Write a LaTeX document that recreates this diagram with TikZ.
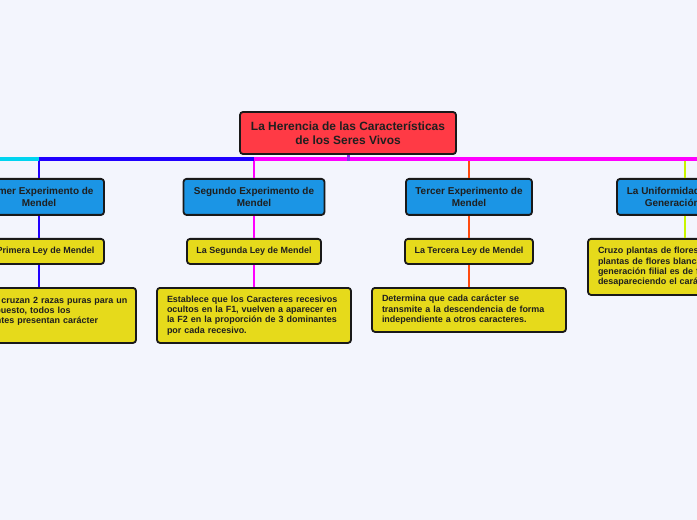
\documentclass[tikz,border=0pt]{standalone}
\usepackage{fontspec}
\setmainfont{Liberation Sans}
\usepackage{tikz}
\usetikzlibrary{shadows}

\definecolor{paper}{HTML}{F3F5FD}
\definecolor{rootred}{HTML}{FF3A45}
\definecolor{topicblue}{HTML}{1B95E5}
\definecolor{noteyellow}{HTML}{E6DA1B}
\definecolor{linecyan}{HTML}{00D4F0}
\definecolor{lineblue}{HTML}{2000FF}
\definecolor{linemagenta}{HTML}{FF00FF}
\definecolor{lineorange}{HTML}{FF4A10}
\definecolor{linelime}{HTML}{C8F500}
\definecolor{linepurple}{HTML}{8A30E8}

\begin{document}
\begin{tikzpicture}[x=1bp, y=-1bp,
	box/.style={draw=black!90, line width=1.8bp, rounded corners=3bp, text=black!88, inner sep=0pt,
		drop shadow={shadow xshift=0.6bp, shadow yshift=-0.9bp, opacity=0.35}},
	rootbox/.style={box, fill=rootred, minimum width=216bp, minimum height=42bp, align=center, font=\bfseries\fontsize{12}{14.5}\selectfont},
	topic/.style={box, fill=topicblue, anchor=north, minimum height=36bp, align=center, font=\bfseries\fontsize{10}{12}\selectfont},
	law/.style={box, fill=noteyellow, anchor=north, minimum height=25bp, font=\bfseries\fontsize{9}{10}\selectfont},
	note/.style={box, fill=noteyellow, anchor=north, inner xsep=10bp, text width=174bp, align=left, font=\bfseries\fontsize{9}{10.4}\selectfont},
	bus/.style={line width=4bp},
	stem/.style={line width=2.6bp},
	twig/.style={line width=1.4bp}]

	% page
	\useasboundingbox (0,0) rectangle (697,520);
	\clip (0,0) rectangle (697,520);
	\fill[paper] (0,0) rectangle (697,520);

	% central topic
	\node[rootbox] (root) at (348,133) {La Herencia de las Características\\de los Seres Vivos};

	% experiments
	\node[topic, minimum width=130bp] (e1) at (39,178) {Primer Experimento de\\Mendel};
	\node[topic, minimum width=141bp] (e2) at (254,178) {Segundo Experimento de\\Mendel};
	\node[topic, minimum width=126bp] (e3) at (469,178) {Tercer Experimento de\\Mendel};
	\node[topic, minimum width=136bp] (e4) at (685,178) {La Uniformidad de la 1ra\\Generación Filial};

	% laws
	\node[law, minimum width=130bp] (l1) at (39,238) {La Primera Ley de Mendel};
	\node[law, minimum width=134bp] (l2) at (254,238) {La Segunda Ley de Mendel};
	\node[law, minimum width=128bp] (l3) at (469,238) {La Tercera Ley de Mendel};
	\node[note, minimum height=56bp] (d4) at (685,238) {\mbox{Cruzo plantas de flores moradas con}\\\mbox{plantas de flores blancas y toda la}\\\mbox{generación filial es de flores moradas,}\\\mbox{desapareciendo el carácter blanco.}};

	% descriptions
	\node[note, minimum height=55bp] (d1) at (39,287) {\mbox{Cuando se cruzan 2 razas puras para un}\\carácter opuesto, todos los\\descendientes presentan carácter\\dominante.};
	\node[note, minimum height=55bp] (d2) at (254,287) {\mbox{Establece que los Caracteres recesivos}\\\mbox{ocultos en la F1, vuelven a aparecer en}\\\mbox{la F2 en la proporción de 3 dominantes}\\por cada recesivo.};
	\node[note, minimum height=44bp] (d3) at (469,287) {Determina que cada carácter se\\transmite a la descendencia de forma\\independiente a otros caracteres.};

	% bus ends
	\coordinate (farleft) at (-80,159);
	\coordinate (farright) at (780,159);
	\coordinate (hub) at (348,161);

	% drops to the experiments
	\draw[stem, lineblue] (e1 |- farleft) -- (e1.north);
	\draw[stem, linemagenta] (e2 |- farleft) -- (e2.north);
	\draw[stem, lineorange] (e3 |- farleft) -- (e3.north);
	\draw[stem, linelime] (e4 |- farleft) -- (e4.north);

	% main bus
	\draw[bus, linecyan] (farleft) -- (e1 |- farleft);
	\draw[bus, lineblue] (e1 |- farleft) -- (e2 |- farleft);
	\draw[bus, linemagenta] (e2 |- farleft) -- (farright);
	\draw[line width=3bp, linepurple] (root.south) -- (hub);

	% experiments to laws
	\draw[stem, lineblue] (e1) -- (l1);
	\draw[stem, linemagenta] (e2) -- (l2);
	\draw[stem, lineorange] (e3) -- (l3);
	\draw[stem, linelime] (e4) -- (d4);

	% laws to descriptions
	\draw[twig, lineblue] (l1) -- (d1);
	\draw[twig, linemagenta] (l2) -- (d2);
	\draw[twig, lineorange] (l3) -- (d3);

\end{tikzpicture}
\end{document}
